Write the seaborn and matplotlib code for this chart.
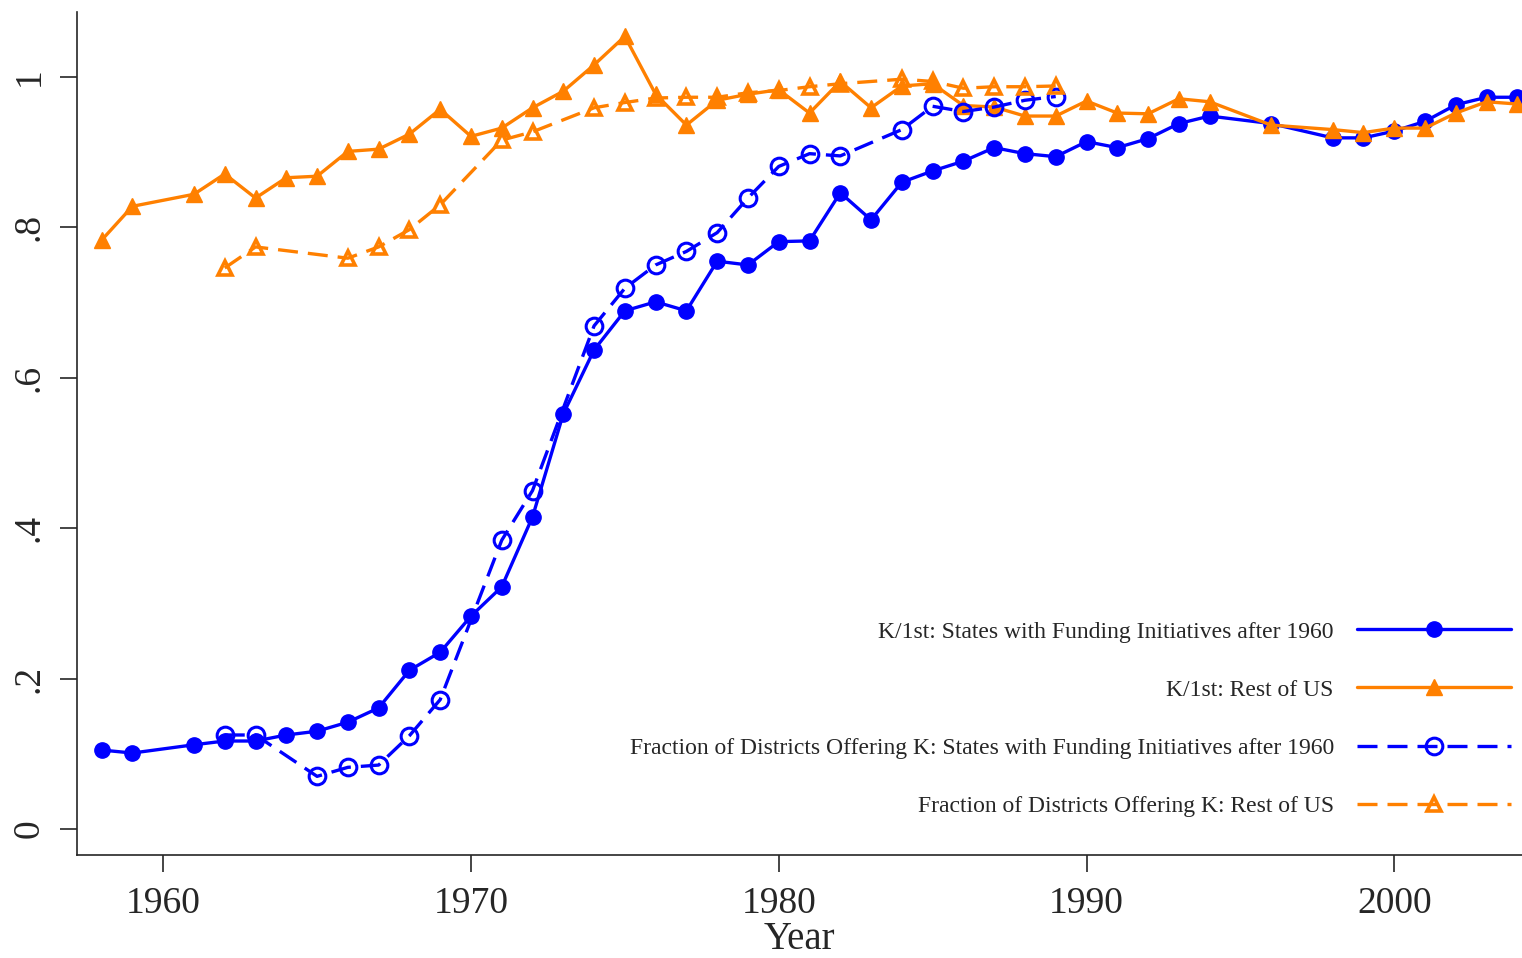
import numpy as np
import pandas as pd
import seaborn as sns
import matplotlib.pyplot as plt

# K/1st enrollment, states with funding initiatives after 1960
years_k1 = [1958, 1959, 1961, 1962, 1963, 1964, 1965, 1966, 1967, 1968, 1969, 1970,
            1971, 1972, 1973, 1974, 1975, 1976, 1977, 1978, 1979, 1980, 1981, 1982,
            1983, 1984, 1985, 1986, 1987, 1988, 1989, 1990, 1991, 1992, 1993, 1994,
            1996, 1998, 1999, 2000, 2001, 2002, 2003, 2004]
k1_funding = [0.105, 0.101, 0.112, 0.117, 0.117, 0.125, 0.130, 0.142, 0.161, 0.211, 0.235, 0.283,
              0.322, 0.415, 0.552, 0.637, 0.689, 0.701, 0.689, 0.755, 0.750, 0.781, 0.782, 0.846,
              0.810, 0.860, 0.875, 0.888, 0.906, 0.898, 0.894, 0.914, 0.906, 0.918, 0.938, 0.948,
              0.938, 0.919, 0.919, 0.928, 0.941, 0.963, 0.973, 0.973]
k1_rest = [0.783, 0.828, 0.844, 0.871, 0.839, 0.866, 0.868, 0.901, 0.904, 0.924, 0.957, 0.921,
           0.932, 0.959, 0.981, 1.016, 1.054, 0.977, 0.936, 0.969, 0.977, 0.983, 0.952, 0.994,
           0.959, 0.988, 0.991, 0.962, 0.960, 0.948, 0.948, 0.968, 0.952, 0.951, 0.971, 0.967,
           0.936, 0.930, 0.926, 0.932, 0.932, 0.952, 0.967, 0.964]

# Fraction of districts offering K
years_dist_funding = [1962, 1963, 1965, 1966, 1967, 1968, 1969, 1971, 1972, 1974, 1975, 1976,
                      1977, 1978, 1979, 1980, 1981, 1982, 1984, 1985, 1986, 1987, 1988, 1989]
dist_funding = [0.125, 0.125, 0.070, 0.082, 0.085, 0.124, 0.172, 0.384, 0.450, 0.669, 0.719, 0.750,
                0.768, 0.793, 0.839, 0.881, 0.898, 0.895, 0.930, 0.961, 0.954, 0.960, 0.969, 0.974]
years_dist_rest = [1962, 1963, 1966, 1967, 1968, 1969, 1971, 1972, 1974, 1975, 1976, 1977,
                   1978, 1979, 1980, 1981, 1982, 1984, 1985, 1986, 1987, 1988, 1989]
dist_rest = [0.746, 0.774, 0.759, 0.774, 0.797, 0.830, 0.916, 0.927, 0.959, 0.966, 0.972, 0.973,
             0.973, 0.979, 0.982, 0.987, 0.991, 0.997, 0.994, 0.985, 0.987, 0.987, 0.988]

labels = ["K/1st: States with Funding Initiatives after 1960",
          "K/1st: Rest of US",
          "Fraction of Districts Offering K: States with Funding Initiatives after 1960",
          "Fraction of Districts Offering K: Rest of US"]

blue = "#0000FF"
orange = "#FF8000"

sns.set_style("ticks")
plt.rcParams['font.family'] = ['Liberation Serif', 'DejaVu Serif']

fig = plt.figure(figsize=(15.22, 9.58), dpi=100)
ax = fig.add_axes([0.0506, 0.1075, 0.9494, 0.88])

sns.lineplot(x=years_k1, y=k1_funding, ax=ax, color=blue, lw=2.4, marker='o',
             markersize=11, markeredgecolor=blue, markeredgewidth=1, label=labels[0])
sns.lineplot(x=years_k1, y=k1_rest, ax=ax, color=orange, lw=2.4, marker='^',
             markersize=12, markeredgecolor=orange, markeredgewidth=1, label=labels[1])
sns.lineplot(x=years_dist_funding, y=dist_funding, ax=ax, color=blue, lw=2.4, marker='o',
             markersize=12, markerfacecolor='none', markeredgecolor=blue, markeredgewidth=2.2,
             linestyle=(0, (6, 3)), label=labels[2])
sns.lineplot(x=years_dist_rest, y=dist_rest, ax=ax, color=orange, lw=2.4, marker='^',
             markersize=10, markerfacecolor='none', markeredgecolor=orange, markeredgewidth=2.6,
             linestyle=(0, (6, 3)), label=labels[3])

ax.set_xlim(1957.2, 2004.15)
ax.set_ylim(-0.0346, 1.0864)
ax.set_xticks([1960, 1970, 1980, 1990, 2000])
ax.set_yticks([0, 0.2, 0.4, 0.6, 0.8, 1.0])
ax.set_yticklabels(["0", ".2", ".4", ".6", ".8", "1"], rotation=90, va='center')
ax.tick_params(axis='both', labelsize=27, length=12, width=1.2, direction='out')
ax.tick_params(axis='x', pad=11)
ax.tick_params(axis='y', pad=10)
ax.set_xlabel("Year", fontsize=28, labelpad=0)
ax.set_ylabel("")
sns.despine(ax=ax)
for s in ['left', 'bottom']:
    ax.spines[s].set_linewidth(1.2)

ax.legend(loc='lower right', bbox_to_anchor=(1.007, 0.02), frameon=False, markerfirst=False,
          fontsize=17, handlelength=6.5, handletextpad=1.0, labelspacing=1.55)

plt.savefig("out.png", dpi=100)
